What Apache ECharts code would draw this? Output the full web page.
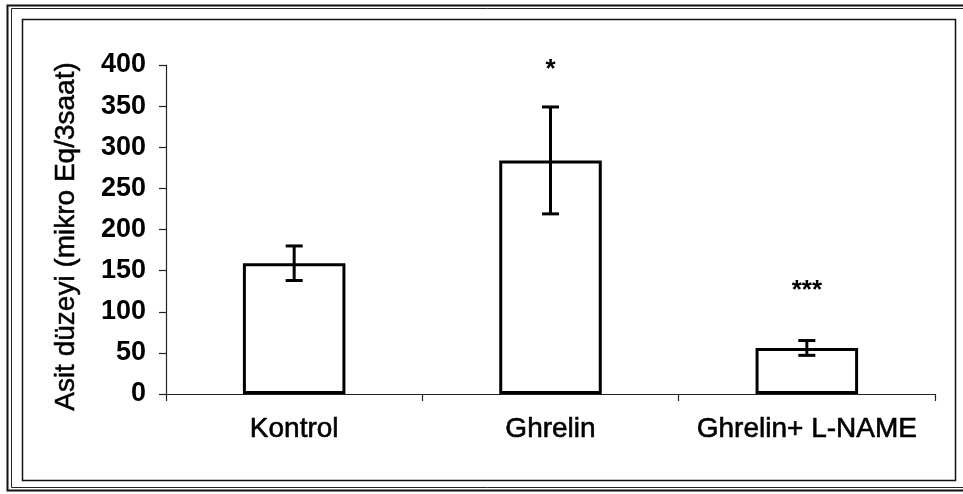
<!DOCTYPE html>
<html>
<head>
<meta charset="utf-8">
<script src="https://cdn.jsdelivr.net/npm/echarts@6/dist/echarts.min.js"></script>
<style>
html,body{margin:0;padding:0;background:#fff;}
#chart{width:963px;height:494px;}
</style>
</head>
<body>
<div id="chart"></div>
<script>
// ---- data ----
const categories = ['Kontrol', 'Ghrelin', 'Ghrelin+ L-NAME'];
const means = [159, 284, 56];
const errors = [21, 65, 9];
const sigLabels = ['', '*', '***'];
const sigValues = [null, 400, 132];
const yTicks = [0, 50, 100, 150, 200, 250, 300, 350, 400];
const yTitle = 'Asit düzeyi (mikro Eq/3saat)';

const FONT = '"Liberation Sans", Arial, sans-serif';
const chart = echarts.init(document.getElementById('chart'), null, {renderer: 'canvas'});

const errData = categories.map((c, i) => [i, means[i] - errors[i], means[i] + errors[i]]);
const sigData = categories.map((c, i) => [i, sigValues[i] == null ? 0 : sigValues[i], sigLabels[i]]);

chart.setOption({
  backgroundColor: '#ffffff',
  animation: false,
  graphic: [
    {type: 'rect', shape: {x: 7.5, y: 5.5, width: 970, height: 485}, style: {fill: 'none', stroke: '#111', lineWidth: 2}},
    {type: 'rect', shape: {x: 11.5, y: 8.5, width: 970, height: 479}, style: {fill: 'none', stroke: '#222', lineWidth: 1}},
    {type: 'rect', shape: {x: 22.5, y: 19.5, width: 933, height: 461}, style: {fill: 'none', stroke: '#111', lineWidth: 1.5}}
  ],
  grid: {left: 166, right: 28, top: 65, bottom: 100, containLabel: false},
  xAxis: {
    type: 'category',
    data: categories,
    axisLine: {lineStyle: {color: '#222', width: 1.2}},
    axisTick: {show: true, inside: false, length: 7, lineStyle: {color: '#222', width: 1.2}},
    axisLabel: {color: '#000', fontFamily: FONT, fontSize: 28, margin: 21, interval: 0,
      textBorderColor: '#000', textBorderWidth: 0.6}
  },
  yAxis: {
    type: 'value',
    min: yTicks[0],
    max: yTicks[yTicks.length - 1],
    interval: yTicks[1] - yTicks[0],
    name: yTitle,
    nameLocation: 'middle',
    nameRotate: 90,
    nameGap: 86,
    nameTextStyle: {color: '#000', fontFamily: FONT, fontSize: 28, textBorderColor: '#000', textBorderWidth: 0.5,
      padding: [0, 14, 0, 0]},
    splitLine: {show: false},
    axisLine: {show: true, lineStyle: {color: '#222', width: 1.2}},
    axisTick: {show: true, inside: false, length: 7, lineStyle: {color: '#222', width: 1.2}},
    axisLabel: {color: '#000', fontFamily: FONT, fontSize: 27, fontWeight: 'bold', margin: 20}
  },
  series: [
    {
      type: 'bar',
      data: means,
      barWidth: '40%',
      itemStyle: {color: '#ffffff', borderColor: '#000', borderWidth: 3}
    },
    {
      type: 'custom',
      data: errData,
      z: 5,
      renderItem: function (params, api) {
        const i = api.value(0);
        const lo = api.coord([i, api.value(1)]);
        const hi = api.coord([i, api.value(2)]);
        const hw = 8.5;
        const st = {stroke: '#000', lineWidth: 3};
        return {
          type: 'group',
          children: [
            {type: 'line', shape: {x1: lo[0], y1: lo[1], x2: hi[0], y2: hi[1]}, style: st},
            {type: 'line', shape: {x1: hi[0] - hw, y1: hi[1], x2: hi[0] + hw, y2: hi[1]}, style: st},
            {type: 'line', shape: {x1: lo[0] - hw, y1: lo[1], x2: lo[0] + hw, y2: lo[1]}, style: st}
          ]
        };
      }
    },
    {
      type: 'custom',
      data: sigData,
      z: 6,
      renderItem: function (params, api) {
        const i = api.value(0);
        const txt = sigLabels[i];
        if (!txt) return null;
        const p = api.coord([i, api.value(1)]);
        return {
          type: 'text',
          style: {
            x: p[0], y: p[1] + 5, text: txt,
            font: 'bold 26px ' + FONT,
            fill: '#000', align: 'center', verticalAlign: 'middle'
          }
        };
      }
    }
  ]
});
</script>
</body>
</html>
